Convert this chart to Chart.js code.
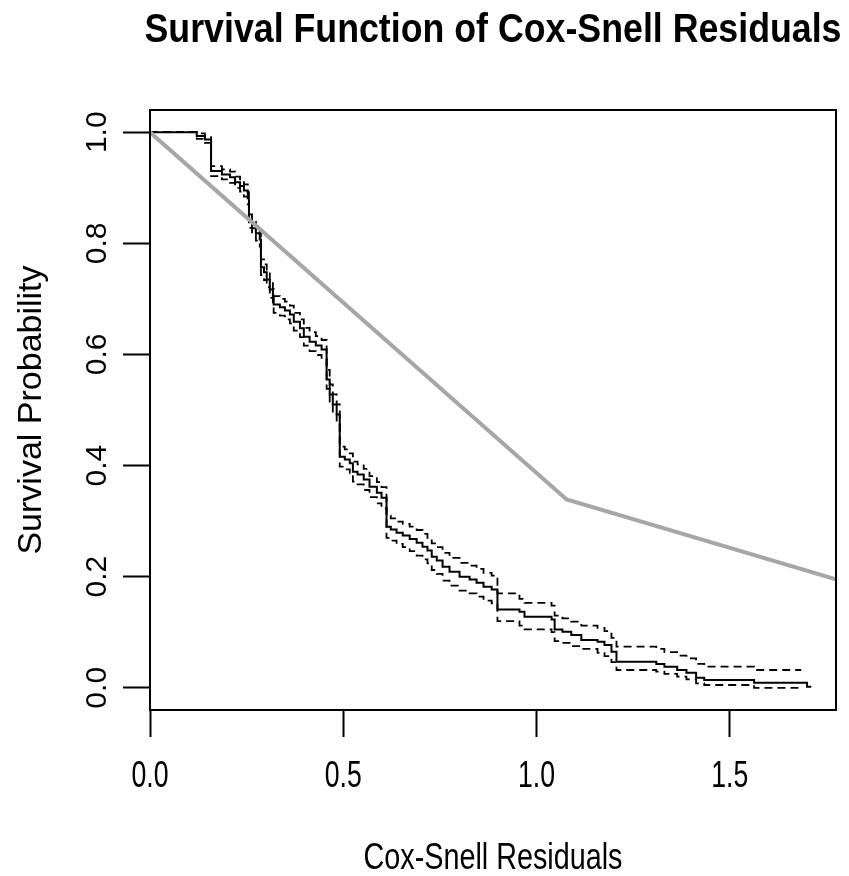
<!DOCTYPE html>
<html>
<head>
<meta charset="utf-8">
<script src="https://cdn.jsdelivr.net/npm/chart.js@4.4.1/dist/chart.umd.min.js"></script>
<style>
    html, body { margin: 0; padding: 0; background: #fff; }
    #wrap { width: 849px; height: 876px; position: relative; }
</style>
</head>
<body>
<div id="wrap"><canvas id="survChart"></canvas></div>
<script>
// Kaplan-Meier estimate of the Cox-Snell residuals
const times = [
    0.000, 0.121, 0.142, 0.158, 0.186, 0.207, 0.220, 0.233, 0.243, 0.253,
    0.256, 0.264, 0.274, 0.284, 0.287, 0.295, 0.302, 0.310, 0.318, 0.320,
    0.336, 0.349, 0.362, 0.372, 0.388, 0.398, 0.413, 0.429, 0.444, 0.457,
    0.465, 0.473, 0.483, 0.491, 0.504, 0.517, 0.525, 0.537, 0.553, 0.568,
    0.587, 0.599, 0.612, 0.623, 0.638, 0.654, 0.672, 0.690, 0.705, 0.718,
    0.729, 0.742, 0.757, 0.775, 0.801, 0.827, 0.845, 0.863, 0.884, 0.899,
    0.956, 0.969, 1.039, 1.047, 1.067, 1.090, 1.116, 1.158, 1.176, 1.194,
    1.207, 1.310, 1.331, 1.364, 1.388, 1.413, 1.434, 1.563, 1.685, 1.700,
    1.711
];
const survival = [
    1.000, 0.993, 0.987, 0.930, 0.924, 0.919, 0.910, 0.903, 0.895, 0.881,
    0.840, 0.827, 0.818, 0.807, 0.757, 0.748, 0.735, 0.717, 0.703, 0.690,
    0.685, 0.679, 0.672, 0.659, 0.647, 0.632, 0.623, 0.616, 0.609, 0.555,
    0.528, 0.510, 0.492, 0.416, 0.411, 0.404, 0.389, 0.384, 0.375, 0.362,
    0.351, 0.342, 0.290, 0.285, 0.279, 0.274, 0.268, 0.261, 0.254, 0.247,
    0.236, 0.229, 0.218, 0.209, 0.200, 0.195, 0.189, 0.182, 0.177, 0.141,
    0.137, 0.128, 0.123, 0.105, 0.101, 0.095, 0.086, 0.083, 0.077, 0.065,
    0.047, 0.043, 0.038, 0.032, 0.027, 0.018, 0.014, 0.009, 0.009, 0.002,
    0.002
];
const upperCI = [
    1.000, 0.998, 0.993, 0.939, 0.933, 0.929, 0.920, 0.913, 0.906, 0.892,
    0.852, 0.839, 0.831, 0.820, 0.771, 0.762, 0.749, 0.732, 0.718, 0.705,
    0.700, 0.695, 0.688, 0.675, 0.663, 0.648, 0.640, 0.633, 0.626, 0.572,
    0.546, 0.528, 0.510, 0.434, 0.429, 0.422, 0.407, 0.402, 0.394, 0.381,
    0.370, 0.361, 0.310, 0.305, 0.299, 0.295, 0.290, 0.284, 0.277, 0.270,
    0.260, 0.253, 0.243, 0.234, 0.225, 0.220, 0.214, 0.207, 0.202, 0.170,
    0.160, 0.153, 0.148, 0.130, 0.125, 0.119, 0.112, 0.108, 0.102, 0.090,
    0.074, 0.070, 0.064, 0.058, 0.053, 0.043, 0.038, 0.032, 0.032, null,
    null
];
const lowerCI = [
    1.000, 0.988, 0.981, 0.921, 0.915, 0.909, 0.900, 0.893, 0.884, 0.870,
    0.828, 0.815, 0.805, 0.794, 0.743, 0.734, 0.721, 0.702, 0.688, 0.675,
    0.670, 0.663, 0.656, 0.643, 0.631, 0.616, 0.606, 0.599, 0.592, 0.538,
    0.510, 0.492, 0.474, 0.398, 0.393, 0.386, 0.371, 0.366, 0.356, 0.343,
    0.332, 0.323, 0.270, 0.265, 0.259, 0.253, 0.246, 0.238, 0.231, 0.224,
    0.212, 0.205, 0.193, 0.184, 0.175, 0.170, 0.164, 0.157, 0.152, 0.120,
    0.112, 0.105, 0.100, 0.084, 0.081, 0.075, 0.070, 0.063, 0.057, 0.046,
    0.032, 0.029, 0.025, 0.020, 0.015, 0.008, 0.005, 0.000, 0.000, null,
    null
];

// grey reference line
const refX = [0.000, 1.078, 1.775];
const refY = [1.000, 0.339, 0.195];

const xTicks = [0, 0.5, 1.0, 1.5];
const yTicks = [0, 0.2, 0.4, 0.6, 0.8, 1.0];

const sans = '"Liberation Sans", Arial, sans-serif';

const toPoints = (xs, ys) => xs.map((x, i) => ({ x: x, y: ys[i] }));

// horizontal text in the reference is squeezed sideways, so use fillText's maxWidth
function squeezed(ctx, text, x, y, font, maxWidth) {
    ctx.font = font;
    ctx.fillText(text, x, y, maxWidth);
}

// box round the plot, main title, x tick labels and x title
const frameAndText = {
    id: 'frameAndText',
    afterDraw(chart) {
        const { ctx, chartArea: a } = chart;
        const xScale = chart.scales.x;
        const midX = (a.left + a.right) / 2;
        ctx.save();
        ctx.strokeStyle = '#000';
        ctx.lineWidth = 2;
        ctx.strokeRect(a.left, a.top, a.right - a.left, a.bottom - a.top);

        ctx.fillStyle = '#000';
        ctx.textAlign = 'center';
        ctx.textBaseline = 'middle';
        squeezed(ctx, 'Survival Function of Cox-Snell Residuals', midX, 31,
            'bold 40px ' + sans, 697);

        xTicks.forEach(v => {
            squeezed(ctx, v.toFixed(1), xScale.getPixelForValue(v), 777,
                '37px ' + sans, 37);
        });

        squeezed(ctx, 'Cox-Snell Residuals', midX, 859, '36px ' + sans, 259);
        ctx.restore();
    }
};

const tickGrid = {
    drawOnChartArea: false,
    drawTicks: true,
    tickLength: 27,
    tickColor: '#000',
    tickWidth: 2
};

const ctx = document.getElementById('survChart').getContext('2d');
new Chart(ctx, {
    type: 'line',
    data: {
        datasets: [
            {
                label: 'reference',
                data: toPoints(refX, refY),
                borderColor: '#a6a6a6',
                borderWidth: 4,
                pointRadius: 0,
                tension: 0
            },
            {
                label: 'KM',
                data: toPoints(times, survival),
                stepped: 'before',
                borderColor: '#000',
                borderWidth: 2,
                pointRadius: 0
            },
            {
                label: 'upper',
                data: toPoints(times, upperCI),
                stepped: 'before',
                borderColor: '#000',
                borderWidth: 1.8,
                borderDash: [8, 5],
                pointRadius: 0
            },
            {
                label: 'lower',
                data: toPoints(times, lowerCI),
                stepped: 'before',
                borderColor: '#000',
                borderWidth: 1.8,
                borderDash: [8, 5],
                pointRadius: 0
            }
        ]
    },
    options: {
        responsive: true,
        maintainAspectRatio: false,
        animation: false,
        events: [],
        layout: { padding: { top: 110, right: 13, left: 0, bottom: 0 } },
        plugins: {
            legend: { display: false },
            tooltip: { enabled: false }
        },
        scales: {
            x: {
                type: 'linear',
                min: 0,
                max: 1.775,
                afterBuildTicks: s => { s.ticks = xTicks.map(v => ({ value: v })); },
                afterFit: s => { s.height = 166; },
                grid: tickGrid,
                border: { display: false },
                ticks: { display: false }
            },
            y: {
                type: 'linear',
                min: -0.04,
                max: 1.04,
                afterBuildTicks: s => { s.ticks = yTicks.map(v => ({ value: v })); },
                afterFit: s => { s.width = 150; },
                grid: tickGrid,
                border: { display: false },
                ticks: {
                    color: '#000',
                    padding: 4,
                    minRotation: 90,
                    maxRotation: 90,
                    crossAlign: 'center',
                    font: { family: sans, size: 30 },
                    callback: v => v.toFixed(1)
                },
                title: {
                    display: true,
                    text: 'Survival Probability',
                    color: '#000',
                    font: { family: sans, size: 34, lineHeight: 1 },
                    padding: { top: 15, bottom: 0 }
                }
            }
        }
    },
    plugins: [frameAndText]
});
</script>
</body>
</html>
